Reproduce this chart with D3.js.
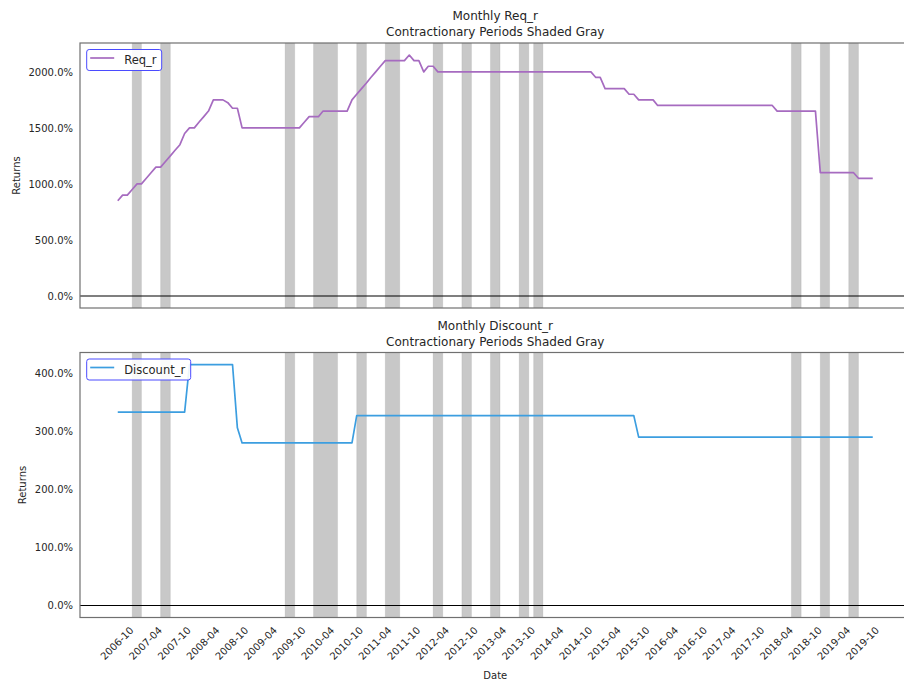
<!DOCTYPE html>
<html>
<head>
<meta charset="utf-8">
<script src="https://cdn.jsdelivr.net/npm/d3@7"></script>
<style>
  body { margin: 0; background: #fff; }
  svg { font-family: 'DejaVu Sans', sans-serif; }
</style>
</head>
<body>
<div id="chart"></div>
<script>
// monthly observations, first one is 2006-10
const startMonth = '2006-10';

const reqR = [
  850, 900, 900, 950, 1000, 1000, 1050, 1100, 1150, 1150, 1200, 1250,
  1300, 1350, 1450, 1500, 1500, 1550, 1600, 1650, 1750, 1750, 1750, 1725,
  1675, 1675, 1500, 1500, 1500, 1500, 1500, 1500, 1500, 1500, 1500, 1500,
  1500, 1500, 1500, 1550, 1600, 1600, 1600, 1650, 1650, 1650, 1650, 1650,
  1650, 1750, 1800, 1850, 1900, 1950, 2000, 2050, 2100, 2100, 2100, 2100,
  2100, 2150, 2100, 2100, 2000, 2050, 2050, 2000, 2000, 2000, 2000, 2000,
  2000, 2000, 2000, 2000, 2000, 2000, 2000, 2000, 2000, 2000, 2000, 2000,
  2000, 2000, 2000, 2000, 2000, 2000, 2000, 2000, 2000, 2000, 2000, 2000,
  2000, 2000, 2000, 2000, 1950, 1950, 1850, 1850, 1850, 1850, 1850, 1800,
  1800, 1750, 1750, 1750, 1750, 1700, 1700, 1700, 1700, 1700, 1700, 1700,
  1700, 1700, 1700, 1700, 1700, 1700, 1700, 1700, 1700, 1700, 1700, 1700,
  1700, 1700, 1700, 1700, 1700, 1700, 1650, 1650, 1650, 1650, 1650, 1650,
  1650, 1650, 1650, 1100, 1100, 1100, 1100, 1100, 1100, 1100, 1100, 1050,
  1050, 1050, 1050,
];

const discountR = [
  333, 333, 333, 333, 333, 333, 333, 333, 333, 333, 333, 333,
  333, 333, 333, 415, 415, 415, 415, 415, 415, 415, 415, 415,
  415, 306, 280, 280, 280, 280, 280, 280, 280, 280, 280, 280,
  280, 280, 280, 280, 280, 280, 280, 280, 280, 280, 280, 280,
  280, 280, 327, 327, 327, 327, 327, 327, 327, 327, 327, 327,
  327, 327, 327, 327, 327, 327, 327, 327, 327, 327, 327, 327,
  327, 327, 327, 327, 327, 327, 327, 327, 327, 327, 327, 327,
  327, 327, 327, 327, 327, 327, 327, 327, 327, 327, 327, 327,
  327, 327, 327, 327, 327, 327, 327, 327, 327, 327, 327, 327,
  327, 290, 290, 290, 290, 290, 290, 290, 290, 290, 290, 290,
  290, 290, 290, 290, 290, 290, 290, 290, 290, 290, 290, 290,
  290, 290, 290, 290, 290, 290, 290, 290, 290, 290, 290, 290,
  290, 290, 290, 290, 290, 290, 290, 290, 290, 290, 290, 290,
  290, 290, 290,
];

// contractionary periods [first month, last month]
const contractions = [
  ['2007-01', '2007-03'], ['2007-07', '2007-09'], ['2009-09', '2009-11'],
  ['2010-03', '2010-08'], ['2010-12', '2011-02'], ['2011-06', '2011-09'],
  ['2012-04', '2012-06'], ['2012-10', '2012-12'], ['2013-04', '2013-06'],
  ['2013-10', '2013-12'], ['2014-01', '2014-03'], ['2018-07', '2018-09'],
  ['2019-01', '2019-03'], ['2019-07', '2019-09'],
];

const xTickLabels = [
  '2006-10', '2007-04', '2007-10', '2008-04', '2008-10', '2009-04', '2009-10',
  '2010-04', '2010-10', '2011-04', '2011-10', '2012-04', '2012-10', '2013-04',
  '2013-10', '2014-04', '2014-10', '2015-04', '2015-10', '2016-04', '2016-10',
  '2017-04', '2017-10', '2018-04', '2018-10', '2019-04', '2019-10',
];

const reqTicks = [0, 500, 1000, 1500, 2000];
const discountTicks = [0, 100, 200, 300, 400];

const parseMonth = d3.timeParse('%Y-%m');
const t0 = parseMonth(startMonth);
const dates = reqR.map((v, i) => d3.timeMonth.offset(t0, i));

const width = 904;
const height = 682;
const textColor = '#262626';

const svg = d3.select('#chart').append('svg')
    .attr('width', width)
    .attr('height', height);

// matplotlib style 5% margins
const tMin = dates[0].getTime();
const tMax = dates[dates.length - 1].getTime();
const tPad = (tMax - tMin) * 0.05;

const xScale = d3.scaleTime()
    .domain([new Date(tMin - tPad), new Date(tMax + tPad)])
    .range([80, 910.5]);

function drawPanel(opts) {
  const { top, bottom, values, color, name, title, yTicks, showX, legendWidth } = opts;
  const data = values.map((v, i) => ({ date: dates[i], value: v }));

  const lo = Math.min(0, d3.min(values));
  const hi = d3.max(values);
  const pad = (hi - lo) * 0.05;

  const yScale = d3.scaleLinear()
      .domain([lo - pad, hi + pad])
      .range([bottom, top]);

  const g = svg.append('g');
  const left = xScale.range()[0];
  const right = xScale.range()[1];

  g.append('clipPath')
      .attr('id', `clip-${name}`)
    .append('rect')
      .attr('x', left)
      .attr('y', top)
      .attr('width', right - left)
      .attr('height', bottom - top);

  const plot = g.append('g').attr('clip-path', `url(#clip-${name})`);

  // shaded periods
  plot.selectAll('.span')
      .data(contractions)
    .enter().append('rect')
      .attr('class', 'span')
      .attr('x', d => xScale(parseMonth(d[0])))
      .attr('width', d => xScale(parseMonth(d[1])) - xScale(parseMonth(d[0])))
      .attr('y', top)
      .attr('height', bottom - top)
      .attr('fill', '#808080')
      .attr('fill-opacity', 0.43)
      .attr('stroke', '#808080')
      .attr('stroke-opacity', 0.15)
      .attr('stroke-width', 1);

  // zero line
  plot.append('line')
      .attr('x1', left)
      .attr('x2', right)
      .attr('y1', yScale(0))
      .attr('y2', yScale(0))
      .attr('stroke', '#000')
      .attr('stroke-width', 1.1);

  const line = d3.line()
      .x(d => xScale(d.date))
      .y(d => yScale(d.value));

  plot.append('path')
      .datum(data)
      .attr('fill', 'none')
      .attr('stroke', color)
      .attr('stroke-width', 1.7)
      .attr('stroke-linejoin', 'round')
      .attr('d', line);

  // spines
  g.append('rect')
      .attr('x', left)
      .attr('y', top)
      .attr('width', right - left)
      .attr('height', bottom - top)
      .attr('fill', 'none')
      .attr('stroke', '#707070')
      .attr('stroke-width', 1.2);

  const yAxis = d3.axisLeft(yScale)
      .tickValues(yTicks)
      .tickSize(0)
      .tickPadding(7)
      .tickFormat(d => `${d.toFixed(1)}%`);

  const yG = g.append('g')
      .attr('transform', `translate(${left}, 0)`)
      .call(yAxis);
  yG.select('.domain').remove();
  yG.selectAll('text')
      .attr('font-size', '10px')
      .attr('font-family', 'DejaVu Sans')
      .attr('fill', textColor);

  // y label placed left of widest tick label
  let minX = left;
  yG.selectAll('text').each(function () {
    const b = this.getBBox();
    minX = Math.min(minX, left + b.x);
  });
  g.append('text')
      .attr('transform', `translate(${minX - 9}, ${(top + bottom) / 2}) rotate(-90)`)
      .attr('text-anchor', 'middle')
      .attr('font-size', '10px')
      .attr('fill', textColor)
      .text('Returns');

  // title
  const cx = (left + right) / 2;
  g.append('text')
      .attr('x', cx)
      .attr('y', top - 23)
      .attr('text-anchor', 'middle')
      .attr('font-size', '12px')
      .attr('fill', textColor)
      .text(title);
  g.append('text')
      .attr('x', cx)
      .attr('y', top - 7)
      .attr('text-anchor', 'middle')
      .attr('font-size', '12px')
      .attr('fill', textColor)
      .text('Contractionary Periods Shaded Gray');

  // legend
  const lg = g.append('g')
      .attr('transform', `translate(${left + 6.7}, ${top + 6.5})`);
  lg.append('rect')
      .attr('width', legendWidth)
      .attr('height', 21)
      .attr('rx', 2.5)
      .attr('fill', '#fff')
      .attr('fill-opacity', 0.9)
      .attr('stroke', '#4b4bff')
      .attr('stroke-width', 1);
  lg.append('line')
      .attr('x1', 3.5)
      .attr('x2', 27.5)
      .attr('y1', 8.5)
      .attr('y2', 8.5)
      .attr('stroke', color)
      .attr('stroke-width', 1.7);
  lg.append('text')
      .attr('x', 37.5)
      .attr('y', 14.5)
      .attr('font-size', '11.5px')
      .attr('fill', textColor)
      .text(name);

  if (showX) {
    const xAxis = d3.axisBottom(xScale)
        .tickValues(xTickLabels.map(parseMonth))
        .tickSize(0)
        .tickFormat(d3.timeFormat('%Y-%m'));

    const xG = g.append('g')
        .attr('transform', `translate(0, ${bottom})`)
        .call(xAxis);
    xG.select('.domain').remove();
    xG.selectAll('text')
        .attr('font-size', '10px')
        .attr('font-family', 'DejaVu Sans')
        .attr('fill', textColor)
        .attr('y', 0)
        .attr('dy', '0.32em')
        .attr('text-anchor', 'middle')
        .attr('transform', 'translate(-1, 26) rotate(-45)');

    g.append('text')
        .attr('x', cx)
        .attr('y', bottom + 61)
        .attr('text-anchor', 'middle')
        .attr('font-size', '10px')
        .attr('fill', textColor)
        .text('Date');
  }
}

drawPanel({
  top: 43,
  bottom: 308,
  values: reqR,
  color: '#a66bc0',
  name: 'Req_r',
  title: 'Monthly Req_r',
  yTicks: reqTicks,
  showX: false,
  legendWidth: 75,
});

drawPanel({
  top: 352.5,
  bottom: 617.5,
  values: discountR,
  color: '#3c9ee0',
  name: 'Discount_r',
  title: 'Monthly Discount_r',
  yTicks: discountTicks,
  showX: true,
  legendWidth: 104,
});
</script>
</body>
</html>
